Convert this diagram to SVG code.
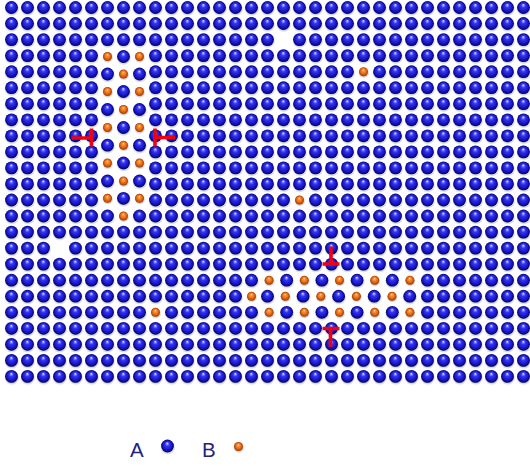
<svg xmlns="http://www.w3.org/2000/svg" width="530" height="466" viewBox="0 0 530 466">
  <defs>
    <radialGradient id="gBlue" cx="0.5" cy="0.5" r="0.5" fx="0.48" fy="0.28">
      <stop offset="0" stop-color="#f6f6ff"/>
      <stop offset="0.14" stop-color="#9090ff"/>
      <stop offset="0.34" stop-color="#3434f4"/>
      <stop offset="0.7" stop-color="#1818c8"/>
      <stop offset="1" stop-color="#000066"/>
    </radialGradient>
    <radialGradient id="gOrange" cx="0.5" cy="0.5" r="0.5" fx="0.48" fy="0.3">
      <stop offset="0" stop-color="#ffe2c4"/>
      <stop offset="0.2" stop-color="#ff9c42"/>
      <stop offset="0.6" stop-color="#e86c12"/>
      <stop offset="1" stop-color="#a43a00"/>
    </radialGradient>
    <radialGradient id="gShade" cx="0.5" cy="0.5" r="0.5">
      <stop offset="0.6" stop-color="#5c5c72" stop-opacity="0.42"/>
      <stop offset="1" stop-color="#5c5c72" stop-opacity="0"/>
    </radialGradient>

    <!-- atom types -->
    <g id="a">
      <ellipse cx="0.3" cy="1.6" rx="7.7" ry="7.3" fill="url(#gShade)"/>
      <circle r="6.4" fill="url(#gBlue)"/>
    </g>
    <g id="o">
      <ellipse cx="0.3" cy="1.2" rx="5.7" ry="5.4" fill="url(#gShade)"/>
      <circle r="4.5" fill="url(#gOrange)"/>
    </g>

    <!-- runs of A atoms, pitch 16 -->
    <g id="s2"><use href="#a"/><use href="#a" x="16"/></g>
    <g id="s4"><use href="#s2"/><use href="#s2" x="32"/></g>
    <g id="s8"><use href="#s4"/><use href="#s4" x="64"/></g>
    <g id="s16"><use href="#s8"/><use href="#s8" x="128"/></g>

    <!-- row layouts -->
    <g id="rFull"><use href="#s16" x="11.5"/><use href="#s16" x="267.5"/><use href="#a" x="523.5"/></g>
    <g id="rVac"><use href="#s16" x="11.5"/><use href="#a" x="267.5"/><use href="#s8" x="299.5"/><use href="#s4" x="427.5"/><use href="#s2" x="491.5"/><use href="#a" x="523.5"/></g>
    <g id="rSplit"><use href="#s4" x="11.5"/><use href="#s2" x="75.5"/><use href="#s16" x="155.5"/><use href="#s8" x="411.5"/></g>
    <g id="rJ4"><use href="#s4" x="11.5"/><use href="#s2" x="75.5"/><use href="#s8" x="155.5"/><use href="#s4" x="283.5"/><use href="#a" x="347.5"/><use href="#o" x="363.5"/><use href="#s8" x="379.5"/><use href="#s2" x="507.5"/></g>
    <g id="rJ12"><use href="#s4" x="11.5"/><use href="#s2" x="75.5"/><use href="#s8" x="155.5"/><use href="#a" x="283.5"/><use href="#o" x="299.5"/><use href="#s8" x="315.5"/><use href="#s4" x="443.5"/><use href="#s2" x="507.5"/></g>
    <g id="rJ13"><use href="#s4" x="11.5"/><use href="#s2" x="75.5"/><use href="#a" x="107.5"/><use href="#o" x="123.5"/><use href="#s16" x="139.5"/><use href="#s8" x="395.5"/><use href="#a" x="523.5"/></g>
    <g id="rJ15"><use href="#s2" x="11.5"/><use href="#a" x="43.5"/><use href="#s16" x="75.5"/><use href="#s8" x="331.5"/><use href="#s4" x="459.5"/><use href="#a" x="523.5"/></g>

    <!-- stretched band rows -->
    <g id="bandA">
      <use href="#o" x="269.1"/><use href="#a" x="286.7"/><use href="#o" x="304.3"/><use href="#a" x="321.9"/>
      <use href="#o" x="339.5"/><use href="#a" x="357.1"/><use href="#o" x="374.7"/><use href="#a" x="392.3"/>
      <use href="#o" x="409.9"/><use href="#a" x="427.5"/>
    </g>
    <g id="bandB">
      <use href="#o" x="285.3"/><use href="#a" x="303.1"/><use href="#o" x="320.8"/><use href="#a" x="338.6"/>
      <use href="#o" x="356.4"/><use href="#a" x="374.2"/><use href="#o" x="392"/><use href="#a" x="409.7"/>
      <use href="#a" x="427.5"/>
    </g>
    <g id="rJ17"><use href="#s16" x="11.5"/><use href="#bandA"/><use href="#s4" x="443.5"/><use href="#s2" x="507.5"/></g>
    <g id="rJ18"><use href="#s8" x="11.5"/><use href="#s4" x="139.5"/><use href="#s2" x="203.5"/><use href="#a" x="235.5"/><use href="#o" x="251.5"/><use href="#a" x="267.5"/><use href="#bandB"/><use href="#s4" x="443.5"/><use href="#s2" x="507.5"/></g>
    <g id="rJ19"><use href="#s8" x="11.5"/><use href="#a" x="139.5"/><use href="#o" x="155.5"/><use href="#s4" x="171.5"/><use href="#s2" x="235.5"/><use href="#bandA"/><use href="#s4" x="443.5"/><use href="#s2" x="507.5"/></g>

    <!-- inclusion columns between the left dislocation pair -->
    <g id="mOBO"><use href="#o" x="107.5"/><use href="#a" x="123.5"/><use href="#o" x="139.5"/></g>
    <g id="mBOB"><use href="#a" x="107.5"/><use href="#o" x="123.5"/><use href="#a" x="139.5"/></g>
  </defs>

  <rect width="530" height="466" fill="#ffffff"/>

  <g id="lattice">
    <use href="#rFull" y="7.5"/>
    <use href="#rFull" y="23.5"/>
    <use href="#rVac" y="39.6"/>
    <use href="#rSplit" y="55.6"/>
    <use href="#rJ4" y="71.7"/>
    <use href="#rSplit" y="87.7"/>
    <use href="#rSplit" y="103.7"/>
    <use href="#rSplit" y="119.8"/>
    <use href="#rSplit" y="135.8"/>
    <use href="#rSplit" y="151.9"/>
    <use href="#rSplit" y="167.9"/>
    <use href="#rSplit" y="183.9"/>
    <use href="#rJ12" y="200"/>
    <use href="#rJ13" y="216"/>
    <use href="#rFull" y="232.1"/>
    <use href="#rJ15" y="248.1"/>
    <use href="#rFull" y="264.1"/>
    <use href="#rJ17" y="280.2"/>
    <use href="#rJ18" y="296.2"/>
    <use href="#rJ19" y="312.3"/>
    <use href="#rFull" y="328.3"/>
    <use href="#rFull" y="344.3"/>
    <use href="#rFull" y="360.4"/>
    <use href="#rFull" y="376.4"/>
  </g>

  <g id="inclusion">
    <use href="#mOBO" y="56.5"/>
    <use href="#mBOB" y="74"/>
    <use href="#mOBO" y="91.5"/>
    <use href="#mBOB" y="109.5"/>
    <use href="#mOBO" y="127.5"/>
    <use href="#mBOB" y="145.2"/>
    <use href="#mOBO" y="163"/>
    <use href="#mBOB" y="181"/>
    <use href="#mOBO" y="198.3"/>
  </g>

  <g id="dislocations" fill="none" stroke="#f00010" stroke-width="3.6">
    <path d="M71.5 138H91.5M91.5 128.5V146.5"/>
    <path d="M155 128.5V146.5M155 137.5H175"/>
    <path d="M331 246.5V264M322.5 264H339.5"/>
    <path d="M322.5 328.5H339.5M330.5 328.5V347"/>
  </g>

  <g id="legend" font-family="'Liberation Sans', Arial, sans-serif" font-size="20.5" fill="#23237d">
    <text x="130" y="457">A</text>
    <use href="#a" x="167.5" y="446"/>
    <text x="202" y="457">B</text>
    <use href="#o" x="238.5" y="446.5"/>
  </g>
</svg>
